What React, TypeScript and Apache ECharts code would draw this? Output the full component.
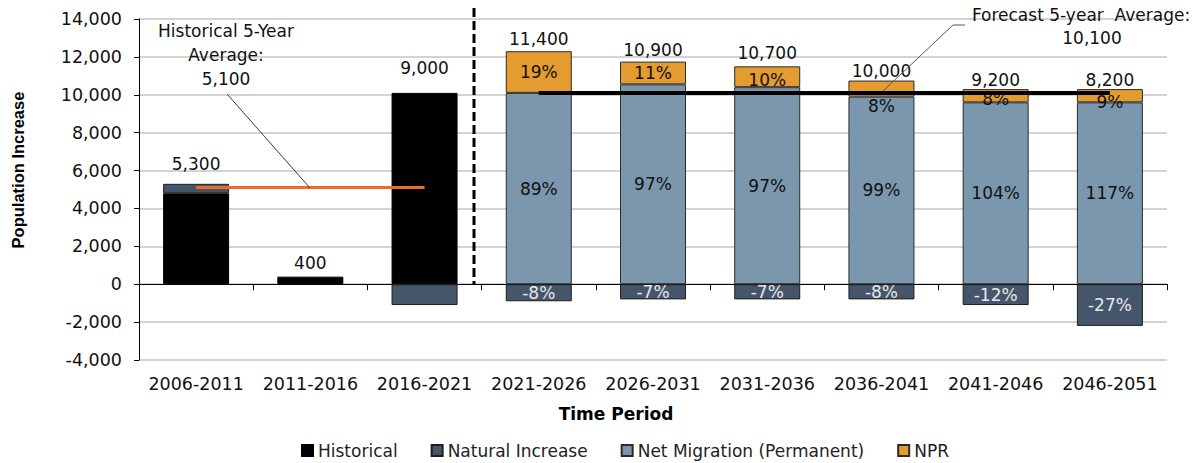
import React, { useEffect, useRef } from "react";
import * as echarts from "echarts";

const categories = ["2006-2011", "2011-2016", "2016-2021", "2021-2026", "2026-2031", "2031-2036", "2036-2041", "2041-2046", "2046-2051"];
const historical = [4800, 400, 10100, null, null, null, null, null, null];
const naturalIncrease = [500, null, -1100, -900, -800, -800, -800, -1100, -2200];
const netMigration = [null, null, null, 10100, 10550, 10400, 9900, 9600, 9600];
const npr = [null, null, null, 2200, 1200, 1100, 850, 700, 700];
const totals = [5300, 400, 9000, 11400, 10900, 10700, 10000, 9200, 8200];
const nprPct = [null, null, null, 19, 11, 10, 8, 8, 9];
const nmPct = [null, null, null, 89, 97, 97, 99, 104, 117];
const niPct = [null, null, null, -8, -7, -7, -8, -12, -27];
const historicalAverage = 5100;
const forecastAverage = 10100;
const yTicks = { min: -4000, max: 14000, interval: 2000 };

const FONT = "DejaVu Sans";
const FS = 17;

// label placement tweaks (styling only)
const totalLabelLift = [20, 14, 25, 12, 12, 13, 10, 9, 9];
const nprLabelShift = [0, 0, 0, 0, 0, 3, 17, 3, 6];

export default function App() {
  const ref = useRef<HTMLDivElement>(null);
  useEffect(() => {
    if (!ref.current) return;
    const chart = echarts.init(ref.current, null, { renderer: "svg" });
    const fmt = (v: number) => v.toLocaleString("en-US");
    const posTop = categories.map((_, i) => {
      let s = 0;
      [historical[i], naturalIncrease[i], netMigration[i], npr[i]].forEach((v) => {
        if (v != null && v > 0) s += v;
      });
      return s;
    });
    const barBase = {
      type: "bar",
      stack: "total",
      barWidth: 66,
      xAxisIndex: 0,
      yAxisIndex: 0,
    };
    const option: any = {
      animation: false,
      grid: { left: 139, width: 1028, top: 19, height: 341, containLabel: false },
      legend: {
        left: 296,
        top: 437,
        itemWidth: 11,
        itemHeight: 11,
        itemGap: 33,
        icon: "rect",
        textStyle: { fontFamily: FONT, fontSize: FS, color: "#222" },
        data: ["Historical", "Natural Increase", "Net Migration (Permanent)", "NPR"],
      },
      xAxis: {
        type: "category",
        data: categories,
        axisLine: { onZero: true, lineStyle: { color: "#000", width: 1 } },
        axisTick: { show: true, length: 6, lineStyle: { color: "#000" } },
        axisLabel: { margin: 15, fontFamily: FONT, fontSize: 17.5, color: "#111", interval: 0 },
        splitLine: { show: false },
      },
      yAxis: {
        type: "value",
        min: yTicks.min,
        max: yTicks.max,
        interval: yTicks.interval,
        axisLine: { show: true, lineStyle: { color: "#000", width: 1 } },
        axisTick: { show: true, length: 5, lineStyle: { color: "#000" } },
        axisLabel: {
          margin: 17,
          fontFamily: FONT,
          fontSize: 17.5,
          color: "#111",
          formatter: (v: number) => fmt(v),
        },
        splitLine: { show: true, lineStyle: { color: "#c4c4c4", width: 1.5 } },
      },
      series: [
        {
          ...barBase,
          name: "Historical",
          data: historical,
          itemStyle: { color: "#000", borderColor: "#000", borderWidth: 1 },
        },
        {
          ...barBase,
          name: "Natural Increase",
          data: naturalIncrease,
          itemStyle: { color: "#45566A", borderColor: "#1e1e1e", borderWidth: 1 },
          label: {
            show: true,
            position: "inside",
            fontFamily: FONT,
            fontSize: FS,
            color: "#e8e8e8",
            formatter: (p: any) => (niPct[p.dataIndex] == null ? "" : niPct[p.dataIndex] + "%"),
          },
        },
        {
          ...barBase,
          name: "Net Migration (Permanent)",
          data: netMigration,
          itemStyle: { color: "#7B97AE", borderColor: "#2a2a2a", borderWidth: 1 },
          label: {
            show: true,
            position: "inside",
            fontFamily: FONT,
            fontSize: FS,
            color: "#111",
            formatter: (p: any) => (nmPct[p.dataIndex] == null ? "" : nmPct[p.dataIndex] + "%"),
          },
        },
        {
          ...barBase,
          name: "NPR",
          data: npr.map((v, i) =>
            v == null
              ? null
              : { value: v, label: { offset: [0, nprLabelShift[i]] } }
          ),
          itemStyle: { color: "#E49B2F", borderColor: "#2a2a2a", borderWidth: 1 },
          label: {
            show: true,
            position: "inside",
            fontFamily: FONT,
            fontSize: FS,
            color: "#111",
            formatter: (p: any) => (nprPct[p.dataIndex] == null ? "" : nprPct[p.dataIndex] + "%"),
          },
          markLine: {
            silent: true,
            symbol: ["none", "none"],
            label: { show: false },
            z: 10,
            data: [
              [
                { coord: [0, historicalAverage], lineStyle: { color: "#EE6B2C", width: 3, type: "solid" } },
                { coord: [2, historicalAverage] },
              ],
              [
                { coord: [3, forecastAverage], lineStyle: { color: "#000", width: 4, type: "solid" } },
                { coord: [8, forecastAverage] },
              ],
            ],
          },
        },
        {
          type: "custom",
          name: "totals",
          coordinateSystem: "cartesian2d",
          silent: true,
          z: 12,
          data: categories.map((_, i) => [i, posTop[i], totals[i]]),
          encode: { x: 0, y: 1 },
          renderItem: (params: any, api: any) => {
            const i = api.value(0);
            const pt = api.coord([i, api.value(1)]);
            return {
              type: "text",
              x: pt[0],
              y: pt[1] - totalLabelLift[i],
              style: {
                text: fmt(api.value(2)),
                fontFamily: FONT,
                fontSize: FS,
                fill: "#111",
                align: "center",
                verticalAlign: "middle",
              },
            };
          },
        },
      ],
      graphic: [
        {
          type: "line",
          z: 20,
          shape: { x1: 474, y1: 8, x2: 474, y2: 284 },
          style: { stroke: "#000", lineWidth: 3, lineDash: [9, 4] },
        },
        {
          type: "line",
          z: 20,
          shape: { x1: 227, y1: 94, x2: 310, y2: 188 },
          style: { stroke: "#3a3a3a", lineWidth: 1 },
        },
        {
          type: "polyline",
          z: 20,
          shape: { points: [[965, 25], [953, 25], [883, 91]] },
          style: { stroke: "#5a5a5a", lineWidth: 1, fill: null },
        },
        {
          type: "text",
          z: 20,
          x: 226,
          y: 19,
          style: {
            text: "Historical 5-Year\nAverage:\n5,100",
            fontFamily: FONT,
            fontSize: FS,
            lineHeight: 24,
            fill: "#111",
            align: "center",
            verticalAlign: "top",
          },
        },
        {
          type: "text",
          z: 20,
          x: 1081,
          y: 15,
          style: {
            text: "Forecast 5-year  Average:",
            fontFamily: FONT,
            fontSize: FS,
            fill: "#111",
            align: "center",
            verticalAlign: "middle",
          },
        },
        {
          type: "text",
          z: 20,
          x: 1092,
          y: 38,
          style: {
            text: "10,100",
            fontFamily: FONT,
            fontSize: FS,
            fill: "#111",
            align: "center",
            verticalAlign: "middle",
          },
        },
        {
          type: "text",
          z: 20,
          x: 616,
          y: 414,
          style: {
            text: "Time Period",
            fontFamily: FONT,
            fontSize: FS,
            fontWeight: "bold",
            fill: "#000",
            align: "center",
            verticalAlign: "middle",
          },
        },
        {
          type: "text",
          z: 20,
          x: 18,
          y: 170,
          rotation: Math.PI / 2,
          style: {
            text: "Population Increase",
            fontFamily: "Liberation Sans",
            fontSize: 16.5,
            fontWeight: "bold",
            fill: "#000",
            align: "center",
            verticalAlign: "middle",
          },
        },
      ],
    };
    chart.setOption(option);
    return () => chart.dispose();
  }, []);
  return (
    <div
      ref={ref}
      style={{ position: "absolute", left: 0, top: 0, width: 1202, height: 463, background: "#fff" }}
    />
  );
}
